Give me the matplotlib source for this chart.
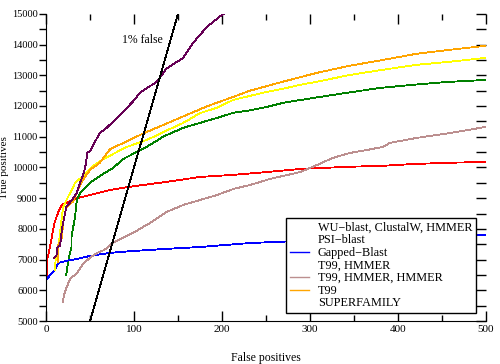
import numpy as np
import matplotlib
matplotlib.use('Agg')
import matplotlib.pyplot as plt
from matplotlib.lines import Line2D
from matplotlib.ticker import MultipleLocator

plt.rcParams['font.family'] = ['Liberation Serif', 'DejaVu Serif']

# series values (false positives, true positives)
wu_x = [1, 1, 2, 4.5, 7, 10, 14, 18, 23, 35, 50, 73, 95, 137, 175, 213, 251, 289, 342, 380, 417, 455, 500]
wu_y = [6500, 7000, 7080, 7410, 7800, 8230, 8550, 8780, 8840, 9000, 9100, 9270, 9370, 9530, 9690, 9760,
        9850, 9950, 10020, 10050, 10110, 10150, 10180]

psi_x = [23, 26, 29, 29, 33, 35, 39, 50, 61, 76, 88, 103, 118, 133, 156, 175, 194, 213, 232, 251, 269,
         303, 342, 380, 417, 455, 500]
psi_y = [6500, 7080, 7400, 7750, 8390, 8940, 9170, 9500, 9720, 9980, 10280, 10500, 10730, 11000, 11290,
         11450, 11610, 11780, 11860, 11970, 12100, 12260, 12430, 12590, 12690, 12780, 12850]

gap_x = [0.5, 0.5, 2, 4.5, 10, 14, 23, 35, 50, 73, 99, 137, 175, 232, 300, 400, 500]
gap_y = [5100, 6340, 6400, 6500, 6660, 6890, 6960, 7020, 7120, 7220, 7280, 7350, 7410, 7540, 7620, 7720, 7800]

t99h_x = [10, 11, 12.5, 14, 16, 18, 19.5, 21.6, 25, 29.5, 33, 41, 52, 64, 75, 92, 115, 137, 156, 175, 194,
          213, 232, 251, 269, 289, 308, 345, 383, 421, 459, 500]
t99h_y = [6660, 7000, 7080, 7410, 7870, 8390, 8710, 8840, 9040, 9270, 9500, 9690, 10020, 10250, 10420,
          10670, 10900, 11200, 11450, 11770, 11940, 12200, 12330, 12460, 12560, 12690, 12790, 13010,
          13180, 13340, 13440, 13570]

t99hh_x = [19, 20.5, 24, 28, 35, 43, 51, 58, 66, 76, 99, 118, 137, 156, 175, 194, 213, 232, 255, 289, 308,
           326, 345, 365, 383, 391, 421, 459, 500]
t99hh_y = [5620, 5850, 6140, 6400, 6550, 6890, 7080, 7220, 7310, 7540, 7870, 8190, 8550, 8780, 8940, 9100,
           9300, 9430, 9630, 9850, 10080, 10310, 10470, 10570, 10670, 10800, 10960, 11120, 11320]

t99_x = [14, 14, 18, 19.5, 23, 25, 31, 36, 42, 50, 61, 73, 92, 110, 137, 160, 183, 213, 232, 269, 308,
         345, 383, 421, 459, 500]
t99_y = [6920, 7480, 7700, 8190, 8700, 8750, 8900, 9270, 9590, 9920, 10150, 10600, 10850, 11100, 11430,
         11710, 11990, 12300, 12500, 12790, 13080, 13310, 13500, 13700, 13830, 13960]

sf_x = [9, 12, 13, 16, 18, 23, 29.5, 35, 39, 43, 45, 47, 51, 55, 61, 69, 84, 99, 107, 126, 137, 156,
        167, 183, 200, 202]
sf_y = [7050, 7150, 7410, 7450, 7970, 8710, 8940, 9170, 9530, 9820, 10080, 10470, 10570, 10800, 11120,
        11290, 11710, 12150, 12440, 12790, 13220, 13570, 14050, 14580, 14970, 15000]

# 1% false: true positives = 100 * false positives
one_pct_x = [50, 150]
one_pct_y = [5000, 15000]

labels = ['WU\u2212blast, ClustalW, HMMER', 'PSI\u2212blast', 'Gapped\u2212Blast', 'T99, HMMER',
          'T99, HMMER, HMMER', 'T99', 'SUPERFAMILY']
colors = ['#ff0000', '#008000', '#0000ff', '#ffff00', '#bc8f8f', '#ffa500', '#660055']
shown_in_legend = [False, False, True, False, True, True, False]
series = [(wu_x, wu_y), (psi_x, psi_y), (gap_x, gap_y), (t99h_x, t99h_y),
          (t99hh_x, t99hh_y), (t99_x, t99_y), (sf_x, sf_y)]

fig = plt.figure(figsize=(5, 3.64), dpi=100)
ax = fig.add_axes([0.092, 0.118, 0.88, 0.844])

for (x, y), c in zip(series, colors):
    ax.plot(x, y, color=c, lw=0.6, antialiased=False)
ax.plot(one_pct_x, one_pct_y, color='black', lw=0.6, antialiased=False)
ax.text(86, 14150, '1% false', fontsize=8.5, va='center', ha='left')

ax.set_xlim(0, 500)
ax.set_ylim(5000, 15000)
ax.spines['top'].set_visible(False)
ax.spines['right'].set_visible(False)

ax.xaxis.set_major_locator(MultipleLocator(100))
ax.xaxis.set_minor_locator(MultipleLocator(50))
ax.yaxis.set_major_locator(MultipleLocator(1000))
ax.yaxis.set_minor_locator(MultipleLocator(500))
ax.tick_params(axis='x', which='major', direction='in', length=7, width=1, labelsize=8, pad=3)
ax.tick_params(axis='x', which='minor', direction='in', length=4, width=1)
ax.tick_params(axis='y', which='both', direction='out', length=5, width=1, labelsize=7.5, pad=1)

top = ax.secondary_xaxis('top')
top.xaxis.set_major_locator(MultipleLocator(100))
top.xaxis.set_minor_locator(MultipleLocator(50))
top.tick_params(which='major', direction='in', length=7, width=1, labeltop=False)
top.tick_params(which='minor', direction='in', length=4, width=1)
top.spines['top'].set_visible(False)

right = ax.secondary_yaxis('right')
right.yaxis.set_major_locator(MultipleLocator(1000))
right.yaxis.set_minor_locator(MultipleLocator(500))
right.tick_params(which='both', direction='in', length=7, width=1, labelright=False)
right.spines['right'].set_visible(False)

ax.set_xlabel('False positives', fontsize=8.5)
ax.set_ylabel('True positives', fontsize=8)
ax.xaxis.set_label_coords(0.5, -0.1)
ax.yaxis.set_label_coords(-0.083, 0.5)

handles = [Line2D([], [], color=c if s else 'none', lw=1) for c, s in zip(colors, shown_in_legend)]
leg = ax.legend(handles, labels, loc='lower right', bbox_to_anchor=(0.977, 0.026), fontsize=8.8,
                frameon=True, fancybox=False, framealpha=1, edgecolor='black', labelspacing=0.05,
                handlelength=1.6, handletextpad=0.7, borderpad=0.3, borderaxespad=0)
leg.get_frame().set_linewidth(1)

fig.savefig('out.png', dpi=100)
